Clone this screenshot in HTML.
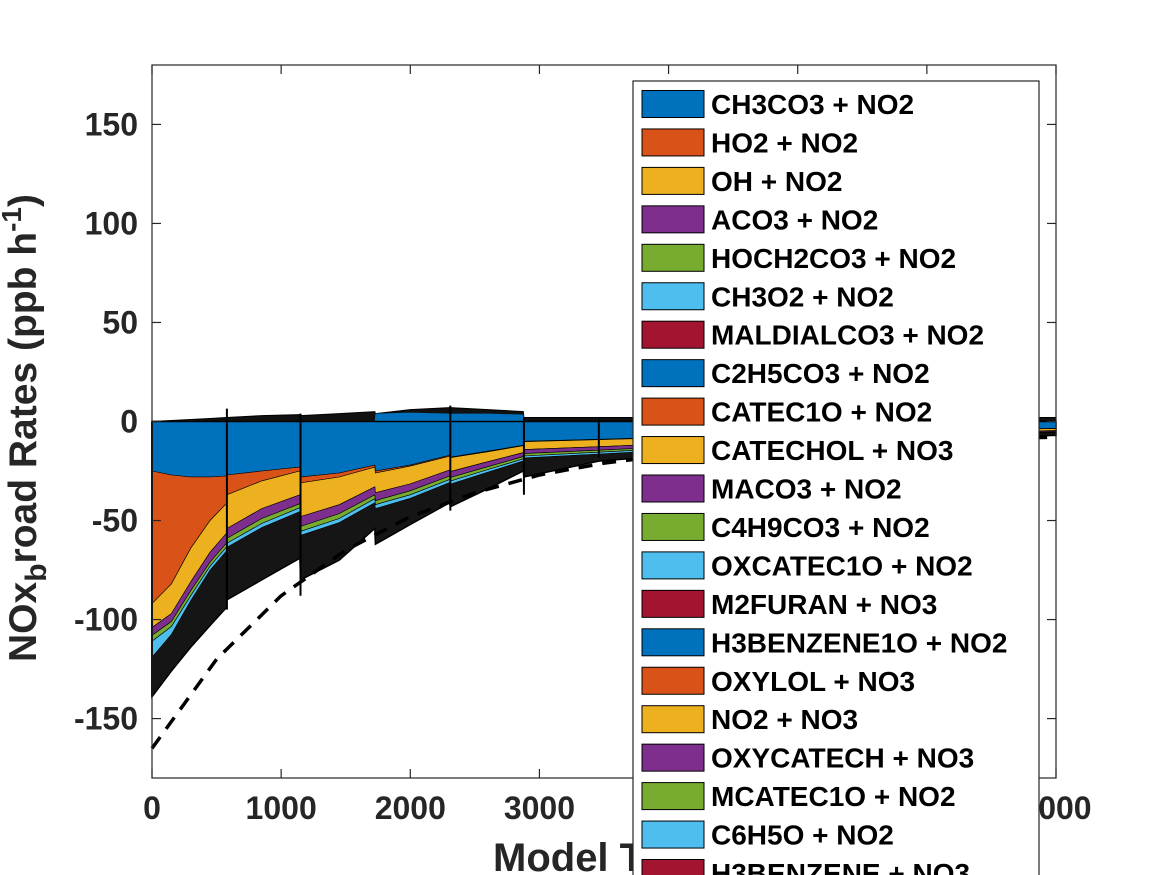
<!DOCTYPE html>
<html><head><meta charset="utf-8"><style>
html,body{margin:0;padding:0;background:#fff;}
svg{display:block;font-family:"Liberation Sans",sans-serif;font-weight:bold;}
</style></head><body>
<svg id="chart" width="1167" height="875" viewBox="0 0 1167 875" xmlns="http://www.w3.org/2000/svg">
<rect x="0" y="0" width="1167" height="875" fill="#fff"/>
<g id="plot"></g>
<g id="axes"></g>
<text x="493" y="871" font-size="40" fill="#262626">Model Time (s)</text>
<text transform="translate(36,428) rotate(-90)" font-size="39" fill="#262626" text-anchor="middle">NOx<tspan font-size="30" dy="10">b</tspan><tspan dy="-10">road Rates (ppb h</tspan><tspan font-size="28" dy="-15">-1</tspan><tspan dy="15">)</tspan></text>
<g id="legend"></g>
</svg>
<script>
const times   = [0,150,300,450,575,580,850,1145,1150,1450,1725,1730,2000,2305,2310,2600,2875,2880,3460,4040,4600,5200,5800,6400,7000];
const blueVals   = [25,27,28,28,27.5,27,25,23,28,26,22,25,22,17,18,15,12,10,9,8,7,6,5,4,3.5];
const orangeVals = [67,55,36,22,14,10,5,2,3,2,1,1,0.5,0.5,0.3,0.3,0.2,0.2,0.2,0.2,0.1,0.1,0.1,0.1,0.1];
const yellowVals = [12,15,17,16,15,17,14,12,17,14,10,10,9,7,7,5,3.5,4,3.5,3,2.5,2,1.5,1.2,1];
const purpleVals = [4,4,4.5,5,5,5,5,4.5,5,4.5,4,4,3.5,3,3,2.5,2,2,1.8,1.5,1.2,1,0.8,0.6,0.5];
const greenVals  = [3,2.5,2.5,2,2,2.5,2.5,2,2.5,2.5,2,2,2,1.8,1.8,1.5,1.2,1.2,1,0.9,0.8,0.6,0.5,0.4,0.3];
const cyanVals   = [8,4,2.5,2,2,2,2,2,2,2,2,2,1.8,1.5,1.5,1.3,1,1,0.9,0.8,0.6,0.5,0.4,0.3,0.3];
const totalLoss  = [139,126,114,103,94,90,80,69,80,70,54,62,52,41,43,34,25,28,20,17,14,12,10,8,7];
const posTotal   = [0,0.5,1,1.5,2,2,3,3.5,3,4,5,4,6,7,7,6,5,2,2,2,2,2,2,2,2];
const posBlue    = [0,0,0,0,0,0,0,0,0,0,0,4,4.5,4,4,4,3.5,0,0,0,0,0,0,0,0];
const dashTimes  = [0,500,1000,1500,2000,2500,3000,3500,4000,4500,5000,5500,6000,6500,7000];
const dashVals   = [-165,-120,-88,-65,-48,-36,-27,-21,-17,-14,-12,-10.5,-9.5,-8.5,-8];
const spikeTimes = [580,1150,2310,2880,3460];
const spikeTop   = [6.5,4,8,2,1];
const spikeBot   = [-95,-88,-45,-37,-18];
const xTicks = [0,1000,2000,3000,4000,5000,6000,7000];
const yTicks = [-150,-100,-50,0,50,100,150];
const legendNames = ["CH3CO3 + NO2","HO2 + NO2","OH + NO2","ACO3 + NO2","HOCH2CO3 + NO2","CH3O2 + NO2","MALDIALCO3 + NO2","C2H5CO3 + NO2","CATEC1O + NO2","CATECHOL + NO3","MACO3 + NO2","C4H9CO3 + NO2","OXCATEC1O + NO2","M2FURAN + NO3","H3BENZENE1O + NO2","OXYLOL + NO3","NO2 + NO3","OXYCATECH + NO3","MCATEC1O + NO2","C6H5O + NO2","H3BENZENE + NO3"];
const palette = ["#0072BD","#D95319","#EDB120","#7E2F8E","#77AC30","#4DBEEE","#A2142F"];

const X0=152,X1=1056,Y0=65,Y1=778;
const xS=t=>X0+(t-0)/7000*(X1-X0);
const yS=v=>Y0+(180-v)/360*(Y1-Y0);
const NS="http://www.w3.org/2000/svg";
const plot=document.getElementById('plot');
const axes=document.getElementById('axes');
const leg=document.getElementById('legend');
function mk(tag,attrs,parent){const e=document.createElementNS(NS,tag);for(const k in attrs)e.setAttribute(k,attrs[k]);parent.appendChild(e);return e;}

function band(top,bot){
  let d='M'+times.map((t,i)=>xS(t).toFixed(1)+','+yS(top[i]).toFixed(1)).join('L');
  for(let i=times.length-1;i>=0;i--)d+='L'+xS(times[i]).toFixed(1)+','+yS(bot[i]).toFixed(1);
  return d+'Z';
}
const layers=[blueVals,orangeVals,yellowVals,purpleVals,greenVals,cyanVals];
const layerNames=['layer-ch3co3','layer-ho2','layer-oh','layer-aco3','layer-hoch2co3','layer-ch3o2'];
let cum=times.map(()=>0);
const restTop=times.map(()=>0);
const restBot=totalLoss.map(v=>-v);
const rest=mk('path',{d:band(restTop,restBot),fill:'#151515',stroke:'#000','stroke-width':1.5},plot);


layers.forEach((arr,li)=>{
  const top=cum.map(v=>-v);
  cum=cum.map((v,i)=>v+arr[i]);
  const bot=cum.map(v=>-v);
  const p=mk('path',{d:band(top,bot),fill:palette[li],stroke:'#000','stroke-width':0.6},plot);
  
  
});
const posP=mk('path',{d:band(posTotal,times.map(()=>0)),fill:'#111',stroke:'#000','stroke-width':1},plot);


const posB=mk('path',{d:band(posBlue,times.map(()=>0)),fill:palette[0],stroke:'none'},plot);


mk('line',{x1:X0,y1:yS(0),x2:xS(7000),y2:yS(0),stroke:'#000','stroke-width':1.5},plot);
spikeTimes.forEach((t,i)=>{
  const l=mk('line',{x1:xS(t),x2:xS(t),y1:yS(spikeTop[i]),y2:yS(spikeBot[i]),stroke:'#000','stroke-width':2},plot);
  
  
});
mk('line',{x1:X0,x2:X0,y1:yS(0),y2:yS(-totalLoss[0]),stroke:'#000','stroke-width':2},plot);
const dl=mk('path',{d:'M'+dashTimes.map((t,i)=>xS(t).toFixed(1)+','+yS(dashVals[i]).toFixed(1)).join('L'),fill:'none',stroke:'#000','stroke-width':3.5,'stroke-dasharray':'14,10'},plot);



mk('rect',{x:X0,y:Y0,width:X1-X0,height:Y1-Y0,fill:'none',stroke:'#262626','stroke-width':1.2},axes);
xTicks.forEach(t=>{
  const x=xS(t);
  mk('line',{x1:x,x2:x,y1:Y1,y2:Y1-9,stroke:'#262626','stroke-width':1.2},axes);
  mk('line',{x1:x,x2:x,y1:Y0,y2:Y0+9,stroke:'#262626','stroke-width':1.2},axes);
  const tx=mk('text',{x:x,y:819,'font-size':32,fill:'#262626','text-anchor':'middle'},axes);
  tx.textContent=t;
  
  
});
yTicks.forEach(v=>{
  const y=yS(v);
  mk('line',{x1:X0,x2:X0+9,y1:y,y2:y,stroke:'#262626','stroke-width':1.2},axes);
  mk('line',{x1:X1,x2:X1-9,y1:y,y2:y,stroke:'#262626','stroke-width':1.2},axes);
  const ty=mk('text',{x:138,y:y+11,'font-size':32,fill:'#262626','text-anchor':'end'},axes);
  ty.textContent=v;
  
  
});

const lb=mk('rect',{x:633,y:81,width:406,height:820,fill:'#fff',stroke:'#262626','stroke-width':1.2},leg);


legendNames.forEach((n,i)=>{
  const cy=104+i*38.45;
  const g=mk('g',{},leg);
  
  
  mk('rect',{x:642,y:cy-13.5,width:62,height:27,fill:palette[i%7],stroke:'#000','stroke-width':1},g);
  const t=mk('text',{x:711,y:cy+10,'font-size':28,fill:'#000'},g);
  t.textContent=n;
});
</script>
</body></html>
